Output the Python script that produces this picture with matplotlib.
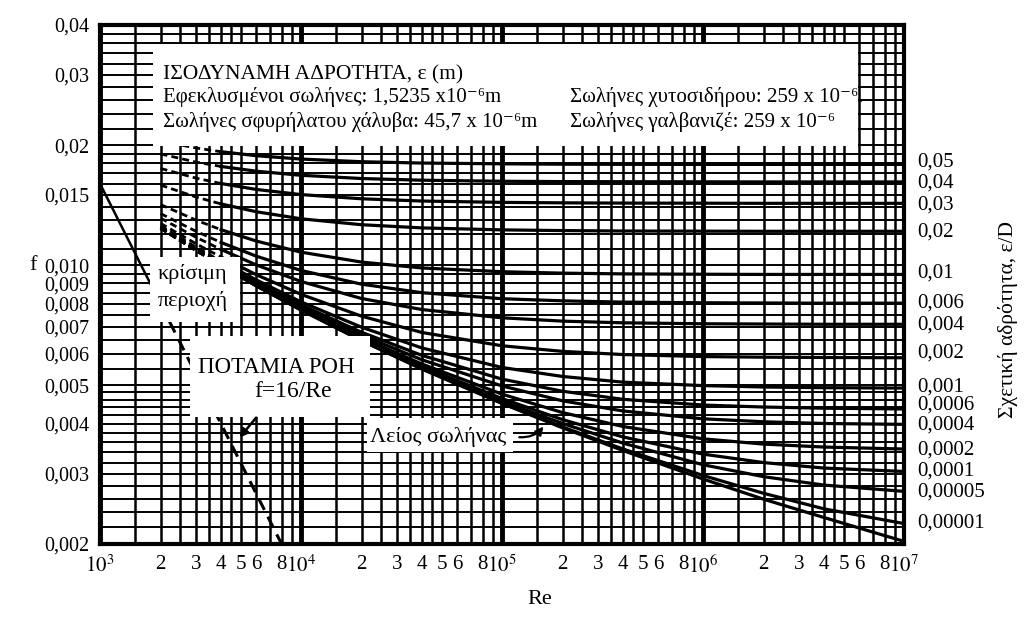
import numpy as np
import matplotlib.pyplot as plt
from matplotlib.patches import Rectangle
from matplotlib.ticker import FixedLocator, NullLocator, FixedFormatter
import matplotlib.transforms as mtrans

plt.rcParams['font.family'] = ['Liberation Serif', 'DejaVu Serif']
plt.rcParams['mathtext.fontset'] = 'stix'

# Re values at which the curves were read (first three = critical zone, dashed)
re_pts = [2e3, 3e3, 4e3, 6e3, 1e4, 2e4, 4e4, 1e5, 2e5, 4e5, 1e6, 2e6, 4e6, 1e7]

# Fanning friction factor for each relative roughness e/D
f_e0_05 = [.02047, .01967, .01925, .01881, .01845, .01817, .01803, .01795, .01791, .01790, .01789, .01789, .01789, .01789]
f_e0_04 = [.01901, .01813, .01768, .01720, .01680, .01649, .01633, .01623, .01620, .01619, .01618, .01617, .01617, .01617]
f_e0_03 = [.01748, .01653, .01602, .01548, .01503, .01467, .01448, .01437, .01433, .01431, .01430, .01429, .01429, .01429]
f_e0_02 = [.01588, .01482, .01424, .01361, .01307, .01263, .01240, .01226, .01221, .01218, .01217, .01216, .01216, .01216]
f_e0_01 = [.01419, .01297, .01227, .01149, .01078, .01018, .00984, .00963, .00955, .00951, .00949, .00948, .00948, .00948]
f_e0_006 = [.01347, .01216, .01140, .01053, .00970, .00896, .00853, .00824, .00814, .00808, .00805, .00804, .00803, .00803]
f_e0_004 = [.01312, .01175, .01095, .01001, .00910, .00825, .00774, .00738, .00724, .00717, .00713, .00712, .00711, .00711]
f_e0_002 = [.01273, .01132, .01048, .00946, .00845, .00745, .00678, .00628, .00608, .00597, .00590, .00588, .00587, .00586]
f_e0_001 = [.01255, .01110, .01023, .00918, .00809, .00699, .00620, .00554, .00526, .00509, .00499, .00495, .00493, .00492]
f_e0_0006 = [.01248, .01101, .01012, .00905, .00795, .00679, .00594, .00518, .00483, .00461, .00446, .00441, .00438, .00436]
f_e0_0004 = [.01245, .01098, .01008, .00900, .00788, .00668, .00579, .00498, .00457, .00431, .00412, .00405, .00401, .00399]
f_e0_0002 = [.01241, .01093, .01003, .00894, .00780, .00658, .00565, .00475, .00427, .00394, .00367, .00356, .00350, .00346]
f_e0_0001 = [.01239, .01090, .01000, .00891, .00776, .00652, .00557, .00463, .00410, .00371, .00336, .00320, .00310, .00304]
f_e0_00005 = [.01238, .01089, .00999, .00888, .00774, .00650, .00553, .00456, .00401, .00358, .00316, .00295, .00281, .00271]
f_e0_00001 = [.01237, .01088, .00998, .00887, .00772, .00647, .00549, .00451, .00393, .00346, .00297, .00268, .00245, .00225]
f_smooth = [.01237, .01088, .00998, .00887, .00772, .00647, .00549, .00450, .00391, .00343, .00291, .00259, .00233, .00203]

curves = [f_e0_05, f_e0_04, f_e0_03, f_e0_02, f_e0_01, f_e0_006, f_e0_004, f_e0_002,
          f_e0_001, f_e0_0006, f_e0_0004, f_e0_0002, f_e0_0001, f_e0_00005, f_e0_00001, f_smooth]
n_crit = 3

# laminar flow f = 16/Re
re_lam = [1e3, 2e3, 8e3]
f_lam = [0.016, 0.008, 0.002]

# right-hand roughness labels and the f level where each stands
rough_labels = ['0,05', '0,04', '0,03', '0,02', '0,01', '0,006', '0,004', '0,002', '0,001',
                '0,0006', '0,0004', '0,0002', '0,0001', '0,00005', '0,00001']
rough_label_f = [0.01815, 0.0161, 0.01416, 0.0121, 0.00956, 0.00804, 0.00708, 0.00603, 0.00495,
                 0.00446, 0.00398, 0.00344, 0.00305, 0.0027, 0.00226]

y_ticks = [0.002, 0.003, 0.004, 0.005, 0.006, 0.007, 0.008, 0.009, 0.010, 0.015, 0.02, 0.03, 0.04]
y_labels = ['0,002', '0,003', '0,004', '0,005', '0,006', '0,007', '0,008', '0,009', '0,010',
            '0,015', '0,02', '0,03', '0,04']

fig = plt.figure(figsize=(10.24, 6.22), dpi=100)
ax = fig.add_axes([0.0977, 0.1254, 0.7852, 0.8344])
ax.set_xscale('log')
ax.set_yscale('log')
ax.set_xlim(1e3, 1e7)
ax.set_ylim(0.002, 0.04)

# dense chart grid
mults = [1, 1.5, 2, 2.5, 3, 3.5, 4, 4.5, 5, 6, 7, 8, 9]
for dec in [1e3, 1e4, 1e5, 1e6]:
    for m in mults:
        ax.axvline(dec * m, color='k', lw=3.5 if m == 1 else 1.8, zorder=1)
hlines = list(np.arange(0.002, 0.005, 0.0002)) + list(np.arange(0.005, 0.01, 0.0005)) + \
    list(np.arange(0.01, 0.02, 0.001)) + list(np.arange(0.02, 0.04, 0.002))
for h in hlines:
    ax.axhline(h, color='k', lw=1.4, zorder=1)

# roughness curves
for f in curves:
    ax.plot(re_pts[n_crit - 1:], f[n_crit - 1:], color='k', lw=2.3, zorder=2)
    ax.plot(re_pts[:n_crit], f[:n_crit], color='k', lw=2.0, ls=(0, (2.5, 1.5)), zorder=2)

# laminar line
ax.plot(re_lam[:2], f_lam[:2], color='k', lw=1.8, zorder=2)
ax.plot(re_lam[1:], f_lam[1:], color='k', lw=2.2, ls=(0, (4, 2.5)), zorder=2)

# white label boxes
boxes = [(0.066, 0.767, 0.877, 0.196), (0.0622, 0.428, 0.112, 0.125),
         (0.112, 0.245, 0.224, 0.156), (0.332, 0.177, 0.182, 0.066)]
for bx, by, bw, bh in boxes:
    ax.add_patch(Rectangle((bx, by), bw, bh, transform=ax.transAxes, facecolor='white',
                           edgecolor='none', zorder=3))

tk = dict(fontsize=15, zorder=4, transform=ax.transAxes, va='center')
ax.text(0.0783, 0.903, 'ΙΣΟΔΥΝΑΜΗ ΑΔΡΟΤΗΤΑ, ε (m)', fontsize=15.5, zorder=4,
        transform=ax.transAxes, va='center')
ax.text(0.0783, 0.861, 'Εφεκλυσμένοι σωλήνες: 1,5235 x10⁻⁶m', **tk)
ax.text(0.0783, 0.814, 'Σωλήνες σφυρήλατου χάλυβα: 45,7 x 10⁻⁶m', **tk)
ax.text(0.584, 0.861, 'Σωλήνες χυτοσιδήρου: 259 x 10⁻⁶.', **tk)
ax.text(0.584, 0.814, 'Σωλήνες γαλβανιζέ: 259 x 10⁻⁶', **tk)

ax.text(0.115, 0.520, 'κρίσιμη', ha='center', va='center', fontsize=16, transform=ax.transAxes, zorder=4)
ax.text(0.115, 0.468, 'περιοχή', ha='center', va='center', fontsize=16, transform=ax.transAxes, zorder=4)
ax.text(0.219, 0.341, 'ΠΟΤΑΜΙΑ ΡΟΗ', ha='center', va='center', fontsize=16.5, transform=ax.transAxes, zorder=4)
ax.text(0.240, 0.293, 'f=16/Re', ha='center', va='center', fontsize=17, transform=ax.transAxes, zorder=4)
ax.text(0.421, 0.206, 'Λείος σωλήνας', ha='center', va='center', fontsize=16, transform=ax.transAxes, zorder=4)

ax.annotate('', xy=(4850, 0.00365), xytext=(6100, 0.0042),
            arrowprops=dict(arrowstyle='-|>', color='k', lw=1.8, mutation_scale=12), zorder=5)
ax.annotate('', xy=(1.64e5, 0.00399), xytext=(1.18e5, 0.00371),
            arrowprops=dict(arrowstyle='-|>', color='k', lw=1.6, mutation_scale=12,
                            connectionstyle='arc3,rad=0.3'), zorder=5)

# right roughness labels
trans = mtrans.blended_transform_factory(ax.transAxes, ax.transData)
for lab, fv in zip(rough_labels, rough_label_f):
    ax.text(1.016, fv, lab, transform=trans, va='center', ha='left', fontsize=15)

# ticks
ax.yaxis.set_major_locator(FixedLocator(y_ticks))
ax.yaxis.set_major_formatter(FixedFormatter(y_labels))
ax.yaxis.set_minor_locator(NullLocator())
x_major = [1e3, 1e4, 1e5, 1e6, 1e7]
ax.xaxis.set_major_locator(FixedLocator(x_major))
ax.xaxis.set_major_formatter(FixedFormatter(['$10^{3}$', '$10^{4}$', '$10^{5}$', '$10^{6}$', '$10^{7}$']))
x_minor = [d * m for d in [1e3, 1e4, 1e5, 1e6] for m in [2, 3, 4, 5, 6, 8]]
ax.xaxis.set_minor_locator(FixedLocator(x_minor))
ax.xaxis.set_minor_formatter(FixedFormatter(['2', '3', '4', '5', '6', '8'] * 4))
ax.tick_params(which='both', length=0, labelsize=15)
ax.tick_params(axis='y', labelsize=14.5, pad=8)
ax.tick_params(axis='x', which='both', pad=8)

for sp in ax.spines.values():
    sp.set_linewidth(3)
    sp.set_zorder(6)

fig.text(33 / 1024, 1 - 265 / 622, 'f', fontsize=16, ha='center', va='center')
fig.text(540 / 1024, 1 - 600 / 622, 'Re', fontsize=16, ha='center', va='center')
fig.text(1008 / 1024, 1 - 320 / 622, 'Σχετική αδρότητα, ε/D', fontsize=15.5, rotation=90,
         ha='center', va='center')

fig.savefig('out.png', dpi=100)
